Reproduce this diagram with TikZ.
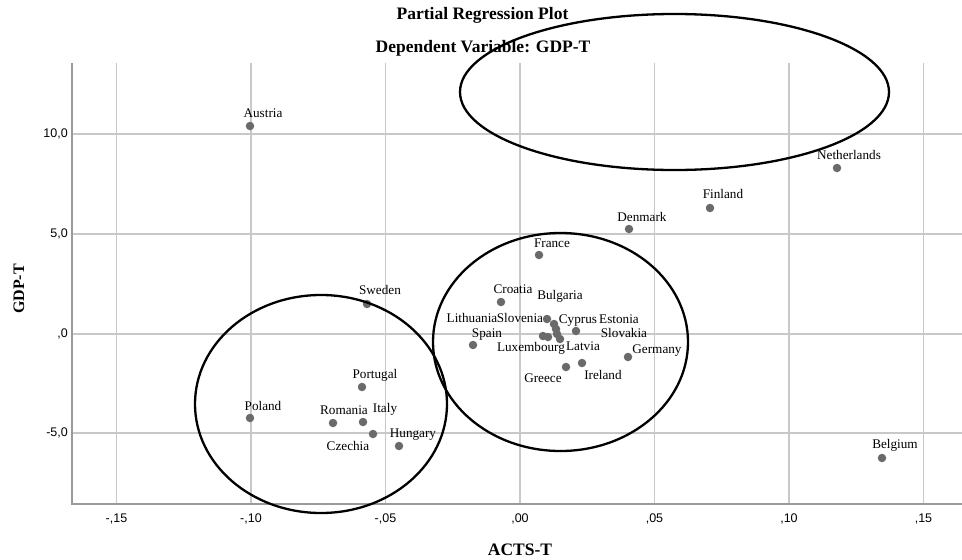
\documentclass[tikz,border=0pt]{standalone}
\usepackage{fontspec}
\setmainfont{Liberation Serif}
\newfontfamily\ticksf{Liberation Sans}
\definecolor{dotgray}{HTML}{6A6A6A}
\definecolor{gridgray}{HTML}{C8C8C8}
\definecolor{axisgray}{HTML}{9A9A9A}
\begin{document}
\begin{tikzpicture}[x=1pt,y=-1pt,
  dot/.style={circle, fill=dotgray, inner sep=0pt, minimum size=8.5pt},
  lbl/.style={inner sep=0pt, text height=9pt, text depth=0pt, font=\fontsize{13.2}{15}\selectfont},
  gridline/.style={draw=gridgray, line width=1.2pt},
  axisline/.style={draw=axisgray, line width=2pt},
  ring/.style={draw=black, line width=2.3pt},
  ticklbl/.style={inner sep=0pt, font=\ticksf\fontsize{12.5}{14}\selectfont},
  titlelbl/.style={inner sep=0pt, font=\bfseries\fontsize{17.5}{20}\selectfont}]
\useasboundingbox (0,0) rectangle (962,560);
\fill[white] (0,0) rectangle (962,560);
% grid
\foreach \gx in {116.5,251,385.5,520,654.5,789,923.5} {\draw[gridline] (\gx,63) -- (\gx,504);}
\foreach \gy in {134,234,334,433} {\draw[gridline] (72,\gy) -- (962,\gy);}
% axes
\coordinate (ytop) at (72,63);
\coordinate (orig) at (72,504);
\coordinate (xend) at (962,504);
\draw[axisline] (ytop) -- (orig) -- (xend);
% tick labels
\node[ticklbl, anchor=east] (t10) at (68,134) {10,0};
\node[ticklbl, anchor=east] (t5) at (68,234) {5,0};
\node[ticklbl, anchor=east] (t0) at (68,334) {,0};
\node[ticklbl, anchor=east] (tm5) at (68,433) {-5,0};
\node[ticklbl] (xm15) at (116.5,519) {-,15};
\node[ticklbl] (xm10) at (251,519) {-,10};
\node[ticklbl] (xm05) at (385.5,519) {-,05};
\node[ticklbl] (x00) at (520,519) {,00};
\node[ticklbl] (x05) at (654.5,519) {,05};
\node[ticklbl] (x10) at (789,519) {,10};
\node[ticklbl] (x15) at (923.5,519) {,15};
% titles
\node[titlelbl] (title1) at (482.5,15) {Partial Regression Plot};
\node[titlelbl] (title2) at (483,48) {Dependent Variable: GDP-T};
\node[titlelbl] (xtitle) at (520,550) {ACTS-T};
\node[titlelbl, rotate=90, font=\bfseries\fontsize{16}{18}\selectfont] (ytitle) at (19,289) {GDP-T};
% points
\node[dot] (austria) at (250,126) {};
\node[dot] (netherlands) at (837,168) {};
\node[dot] (finland) at (710,208) {};
\node[dot] (denmark) at (629,229) {};
\node[dot] (france) at (539,255) {};
\node[dot] (sweden) at (367,304) {};
\node[dot] (croatia) at (501,302) {};
\node[dot] (slovenia) at (547,319) {};
\node[dot] (lithuania) at (543,336) {};
\node[dot] (luxembourg) at (548,337) {};
\node[dot] (bulgaria) at (554,324) {};
\node[dot] (cyprus) at (556,329) {};
\node[dot] (slovakia) at (557,334) {};
\node[dot] (latvia) at (560,339) {};
\node[dot] (estonia) at (576,331) {};
\node[dot] (spain) at (473,345) {};
\node[dot] (germany) at (628,357) {};
\node[dot] (greece) at (566,367) {};
\node[dot] (ireland) at (582,363) {};
\node[dot] (portugal) at (362,387) {};
\node[dot] (poland) at (250,418) {};
\node[dot] (romania) at (333,423) {};
\node[dot] (italy) at (363,422) {};
\node[dot] (czechia) at (373,434) {};
\node[dot] (hungary) at (399,446) {};
\node[dot] (belgium) at (882,458) {};
% labels
\node[lbl] (lAustria) at (263,113) {Austria};
\node[lbl] (lNetherlands) at (849,155) {Netherlands};
\node[lbl] (lFinland) at (723,194) {Finland};
\node[lbl] (lDenmark) at (642,217) {Denmark};
\node[lbl] (lFrance) at (552,243) {France};
\node[lbl] (lSweden) at (380,290) {Sweden};
\node[lbl] (lCroatia) at (513,289) {Croatia};
\node[lbl] (lBulgaria) at (560,295) {Bulgaria};
\node[lbl] (lLithuania) at (472,318) {Lithuania};
\node[lbl] (lSlovenia) at (520,318) {Slovenia};
\node[lbl] (lCyprus) at (578,319) {Cyprus};
\node[lbl] (lEstonia) at (619,319) {Estonia};
\node[lbl] (lSpain) at (487,333) {Spain};
\node[lbl] (lSlovakia) at (624,333) {Slovakia};
\node[lbl] (lLuxembourg) at (531,347) {Luxembourg};
\node[lbl] (lLatvia) at (583,346) {Latvia};
\node[lbl] (lGermany) at (657,349) {Germany};
\node[lbl] (lGreece) at (543,378) {Greece};
\node[lbl] (lIreland) at (603,375) {Ireland};
\node[lbl] (lPortugal) at (375,374) {Portugal};
\node[lbl] (lPoland) at (263,406) {Poland};
\node[lbl] (lRomania) at (344,410) {Romania};
\node[lbl] (lItaly) at (385,408) {Italy};
\node[lbl] (lCzechia) at (348,446) {Czechia};
\node[lbl] (lHungary) at (413,433) {Hungary};
\node[lbl] (lBelgium) at (895,444) {Belgium};
% rings
\draw[ring] (321,404) ellipse [x radius=126pt, y radius=109pt];
\draw[ring] (560.5,342) ellipse [x radius=127.5pt, y radius=109pt];
\draw[ring] (674.5,92) ellipse [x radius=214.5pt, y radius=78pt];
\end{tikzpicture}
\end{document}
